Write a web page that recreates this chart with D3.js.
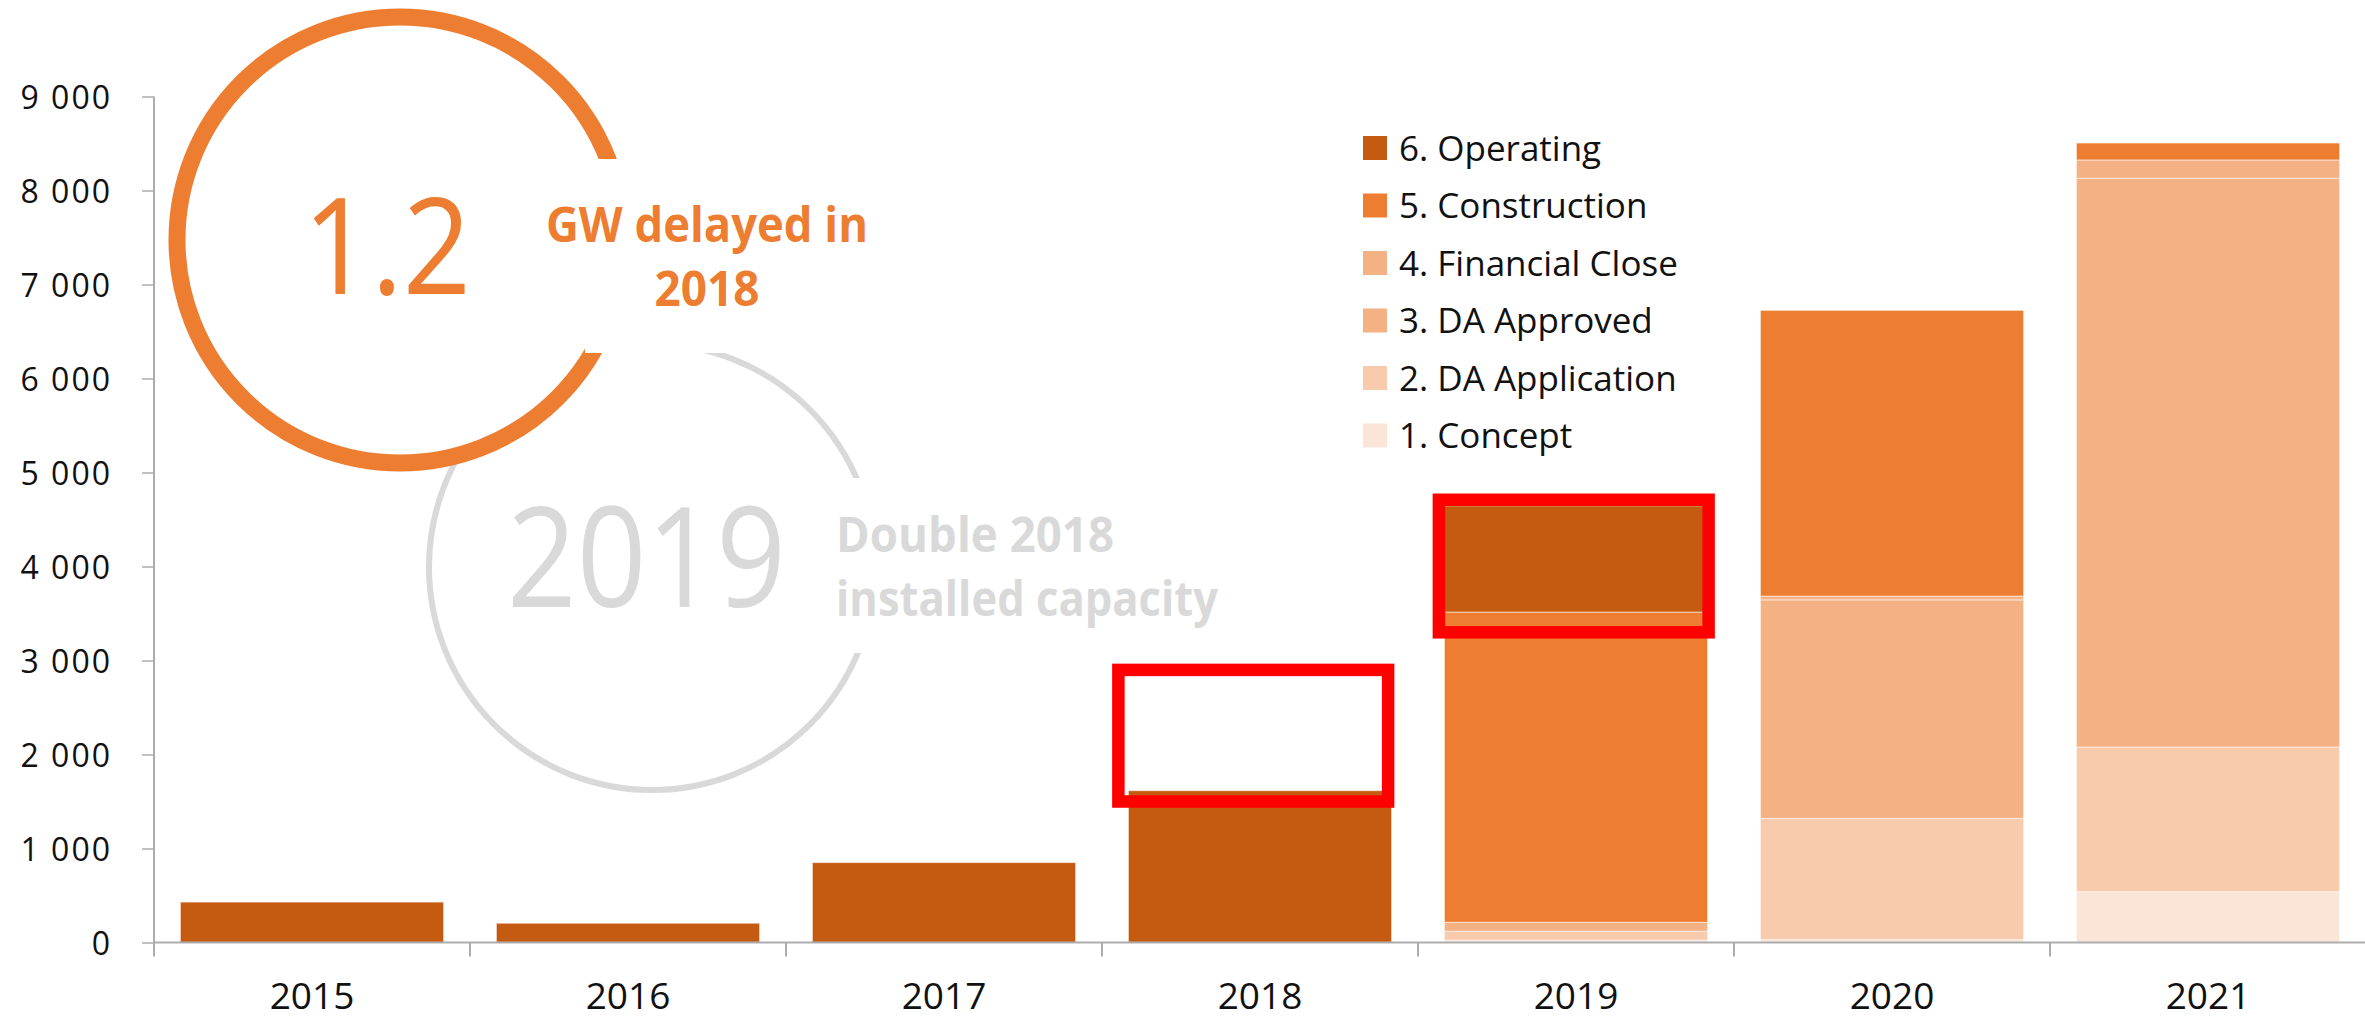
<!DOCTYPE html>
<html>
<head>
<meta charset="utf-8">
<script src="https://cdn.jsdelivr.net/npm/d3@7"></script>
<style>
  html, body { margin: 0; padding: 0; background: #fff; }
  svg { display: block; }
</style>
</head>
<body>
<svg id="chart" width="2365" height="1019"></svg>
<script>
// ---------------- data ----------------
const categories = ["2015", "2016", "2017", "2018", "2019", "2020", "2021"];
const concept        = [0, 0, 0, 0, 25, 30, 540];
const daApplication  = [0, 0, 0, 0, 95, 1290, 1540];
const daApproved     = [0, 0, 0, 0, 95, 2325, 6050];
const financialClose = [0, 0, 0, 0, 0, 40, 195];
const construction   = [0, 0, 0, 0, 3300, 3040, 180];
const operating      = [430, 205, 850, 1615, 1130, 0, 0];

const seriesKeys   = ["1. Concept", "2. DA Application", "3. DA Approved", "4. Financial Close", "5. Construction", "6. Operating"];
const seriesValues = [concept, daApplication, daApproved, financialClose, construction, operating];
const seriesColors = ["#FBE5D6", "#F8CBAD", "#F4B183", "#F4B183", "#ED7D31", "#C55A11"];

const yTicks = [0, 1000, 2000, 3000, 4000, 5000, 6000, 7000, 8000, 9000];

// highlighted (red boxed) ranges
const highlightYears = ["2018", "2019"];
const highlightLow   = [1500, 3300];
const highlightHigh  = [2900, 4710];

// annotation texts
const bigNumber = "1.2";
const bigNumberCaption = ["GW delayed in", "2018"];
const yearNumber = "2019";
const yearCaption = ["Double 2018", "installed capacity"];

// ---------------- layout ----------------
const svg = d3.select("#chart");
const plotLeft = 154, plotRight = 2366, plotTop = 96.5, plotBottom = 942.5;

const x = d3.scaleBand().domain(categories).range([plotLeft, plotRight])
  .paddingInner(0.167).paddingOuter(0.0835);
const y = d3.scaleLinear().domain([0, 9000]).range([plotBottom, plotTop]);

const table = categories.map((c, i) => {
  const row = { year: c };
  seriesKeys.forEach((k, j) => row[k] = seriesValues[j][i]);
  return row;
});
const stacked = d3.stack().keys(seriesKeys)(table);
const color = d3.scaleOrdinal().domain(seriesKeys).range(seriesColors);

const locale = d3.formatLocale({ decimal: ".", thousands: "\u00a0", grouping: [3], currency: ["", ""] });
const fmt = locale.format(",");

// ---------------- annotation circles (behind) ----------------
const ann = svg.append("g");
ann.append("circle").attr("cx", 652).attr("cy", 567).attr("r", 223)
  .attr("fill", "#fff").attr("stroke", "#D9D9D9").attr("stroke-width", 6);
ann.append("circle").attr("cx", 400).attr("cy", 240).attr("r", 223)
  .attr("fill", "#fff").attr("stroke", "#ED7D31").attr("stroke-width", 17);
// white text boxes
ann.append("rect").attr("x", 585).attr("y", 159).attr("width", 330).attr("height", 194).attr("fill", "#fff");
ann.append("rect").attr("x", 826).attr("y", 478).attr("width", 410).attr("height", 175).attr("fill", "#fff");

ann.append("text").text(bigNumber)
  .attr("x", 303).attr("y", 294)
  .attr("font-family", "'Open Sans', Lato, sans-serif").attr("font-weight", 400)
  .attr("font-size", 134).attr("fill", "#ED7D31")
  .attr("textLength", 168).attr("lengthAdjust", "spacingAndGlyphs");
ann.append("text").text(bigNumberCaption[0])
  .attr("x", 707).attr("y", 242).attr("text-anchor", "middle")
  .attr("font-family", "'Open Sans', sans-serif").attr("font-weight", 700)
  .attr("font-size", 48).attr("fill", "#ED7D31")
  .attr("textLength", 322).attr("lengthAdjust", "spacingAndGlyphs");
ann.append("text").text(bigNumberCaption[1])
  .attr("x", 707).attr("y", 306).attr("text-anchor", "middle")
  .attr("font-family", "'Open Sans', sans-serif").attr("font-weight", 700)
  .attr("font-size", 48).attr("fill", "#ED7D31")
  .attr("textLength", 105).attr("lengthAdjust", "spacingAndGlyphs");

ann.append("text").text(yearNumber)
  .attr("x", 507).attr("y", 607)
  .attr("font-family", "'Open Sans', Lato, sans-serif").attr("font-weight", 400)
  .attr("font-size", 139).attr("fill", "#D9D9D9")
  .attr("textLength", 279).attr("lengthAdjust", "spacingAndGlyphs");
ann.append("text").text(yearCaption[0])
  .attr("x", 836).attr("y", 552)
  .attr("font-family", "'Open Sans', sans-serif").attr("font-weight", 700)
  .attr("font-size", 48).attr("fill", "#D9D9D9")
  .attr("textLength", 278).attr("lengthAdjust", "spacingAndGlyphs");
ann.append("text").text(yearCaption[1])
  .attr("x", 836).attr("y", 616)
  .attr("font-family", "'Open Sans', sans-serif").attr("font-weight", 700)
  .attr("font-size", 48).attr("fill", "#D9D9D9")
  .attr("textLength", 382).attr("lengthAdjust", "spacingAndGlyphs");

// ---------------- bars ----------------
const bars = svg.append("g");
bars.selectAll("g").data(stacked).join("g")
  .attr("fill", d => color(d.key))
  .selectAll("rect").data(d => d.filter(s => s[1] - s[0] > 0)).join("rect")
  .attr("x", d => x(d.data.year))
  .attr("width", x.bandwidth())
  .attr("y", d => y(d[1]))
  .attr("height", d => y(d[0]) - y(d[1]))
  .attr("stroke", "#fff").attr("stroke-opacity", 0.55).attr("stroke-width", 1);

// ---------------- axes ----------------
const axisColor = "#ADADAD";
const yAxis = svg.append("g").attr("transform", `translate(${plotLeft},0)`)
  .call(d3.axisLeft(y).tickValues(yTicks).tickSize(12).tickPadding(30).tickFormat(fmt));
yAxis.select(".domain").remove();
yAxis.selectAll(".tick line").attr("stroke", axisColor).attr("stroke-width", 1.5);
yAxis.selectAll(".tick text")
  .attr("font-family", "'Open Sans', sans-serif").attr("font-size", 32)
  .attr("fill", "#111").attr("letter-spacing", 2).attr("dy", "0.36em");
// vertical axis line
svg.append("line").attr("x1", plotLeft).attr("x2", plotLeft)
  .attr("y1", y(9000)).attr("y2", plotBottom + 14)
  .attr("stroke", axisColor).attr("stroke-width", 2);

const xAxis = svg.append("g").attr("transform", `translate(0,${plotBottom})`)
  .call(d3.axisBottom(x).tickSize(0).tickPadding(40));
xAxis.select(".domain").remove();
xAxis.selectAll(".tick text")
  .attr("font-family", "'Open Sans', sans-serif").attr("font-size", 37).attr("fill", "#111");
svg.append("line").attr("x1", plotLeft).attr("x2", plotRight)
  .attr("y1", plotBottom).attr("y2", plotBottom)
  .attr("stroke", axisColor).attr("stroke-width", 2);
// category boundary ticks
const boundaries = categories.map(c => x(c) - x.step() * x.paddingInner() / 2).concat([plotRight]);
svg.append("g").selectAll("line").data(boundaries.slice(1)).join("line")
  .attr("x1", d => d).attr("x2", d => d)
  .attr("y1", plotBottom).attr("y2", plotBottom + 14)
  .attr("stroke", axisColor).attr("stroke-width", 2);

// ---------------- highlight boxes ----------------
svg.append("g").selectAll("rect").data(highlightYears).join("rect")
  .attr("x", (d, i) => x(d) - (i === 0 ? 10 : 5.5))
  .attr("width", x.bandwidth() + 6.5)
  .attr("y", (d, i) => y(highlightHigh[i]))
  .attr("height", (d, i) => y(highlightLow[i]) - y(highlightHigh[i]))
  .attr("fill", "none").attr("stroke", "#FF0000").attr("stroke-width", 12.5);

// ---------------- legend ----------------
const legendOrder = seriesKeys.slice().reverse();
const legend = svg.append("g").attr("transform", "translate(1363,136)");
const li = legend.selectAll("g").data(legendOrder).join("g")
  .attr("transform", (d, i) => `translate(0,${i * 57.5})`);
li.append("rect").attr("width", 24).attr("height", 24).attr("fill", d => color(d));
li.append("text").text(d => d).attr("x", 36).attr("y", 12).attr("dy", "0.36em")
  .attr("font-family", "'Open Sans', sans-serif").attr("font-size", 35).attr("fill", "#111");
</script>
</body>
</html>
